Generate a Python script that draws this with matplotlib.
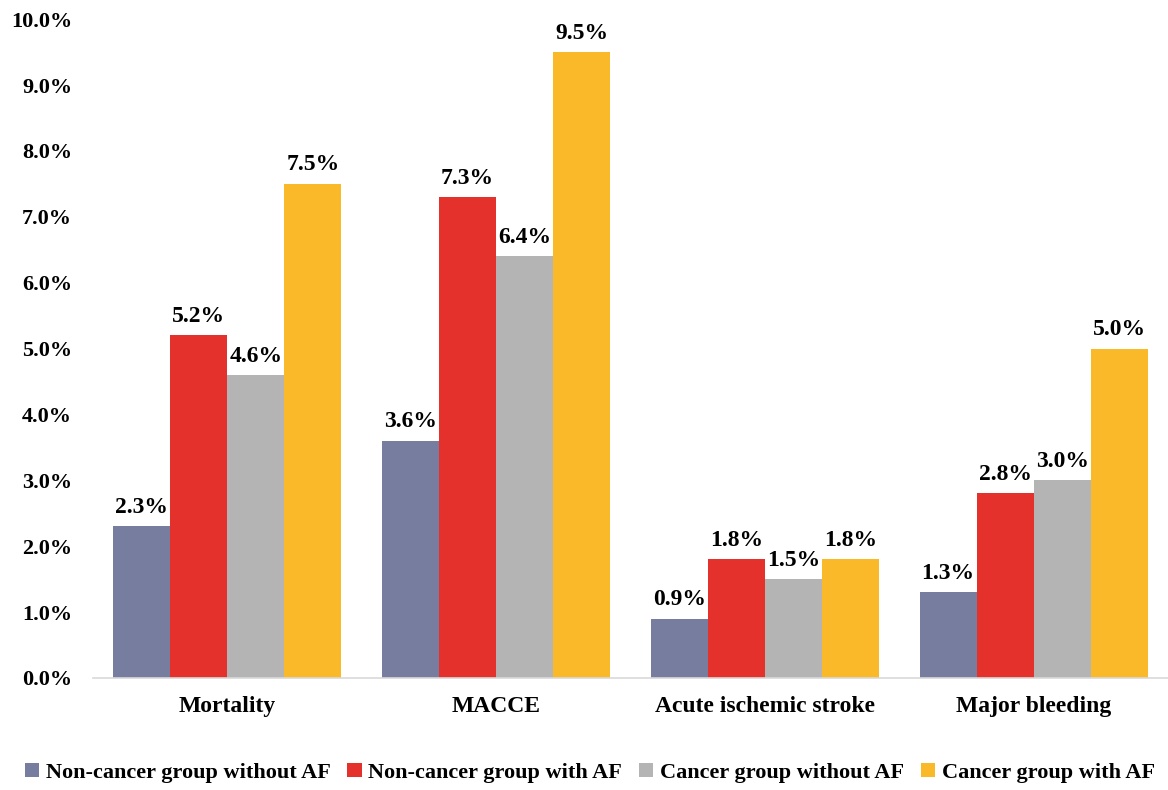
import numpy as np
import matplotlib.pyplot as plt

plt.rcParams['font.family'] = ['Liberation Serif', 'DejaVu Serif']
plt.rcParams['font.weight'] = 'bold'

categories = ['Mortality', 'MACCE', 'Acute ischemic stroke', 'Major bleeding']
series_names = ['Non-cancer group without AF', 'Non-cancer group with AF',
                'Cancer group without AF', 'Cancer group with AF']
non_cancer_no_af = [2.3, 3.6, 0.9, 1.3]
non_cancer_af = [5.2, 7.3, 1.8, 2.8]
cancer_no_af = [4.6, 6.4, 1.5, 3.0]
cancer_af = [7.5, 9.5, 1.8, 5.0]
colors = ['#767D9F', '#E4312B', '#B4B4B4', '#F9B928']

series = [non_cancer_no_af, non_cancer_af, cancer_no_af, cancer_af]

fig = plt.figure(figsize=(11.68, 7.9), dpi=100)
ax = fig.add_axes([0.0796, 0.1418, 0.9204, 0.834])

x = np.arange(len(categories))
w = 0.212
for i, (vals, name, c) in enumerate(zip(series, series_names, colors)):
    pos = x + (i - 1.5) * w
    bars = ax.bar(pos, vals, width=w, color=c, label=name)
    for b, v in zip(bars, vals):
        ax.annotate('%.1f%%' % v, (b.get_x() + b.get_width() / 2, v),
                    xytext=(0, 6), textcoords='offset points',
                    ha='center', va='bottom', fontsize=17, fontweight='bold')

ax.set_xlim(-0.5, 3.5)
ax.set_ylim(0, 10)
ax.set_yticks(np.arange(0, 10.1, 1))
ax.set_yticklabels(['%.1f%%' % t for t in np.arange(0, 10.1, 1)])
ax.set_xticks(x)
ax.set_xticklabels(categories)
ax.tick_params(axis='both', length=0)
ax.tick_params(axis='y', pad=15, labelsize=16)
ax.tick_params(axis='x', pad=13, labelsize=17)
for s in ['top', 'right', 'left']:
    ax.spines[s].set_visible(False)
ax.spines['bottom'].set_color('#D9D9D9')
ax.spines['bottom'].set_linewidth(1.2)

fig.legend(loc='center', bbox_to_anchor=(0.505, 0.022), ncol=4, frameon=False,
           fontsize=16, handlelength=0.65, handleheight=0.65,
           handletextpad=0.3, columnspacing=0.75)

fig.savefig('out.png', dpi=100)
